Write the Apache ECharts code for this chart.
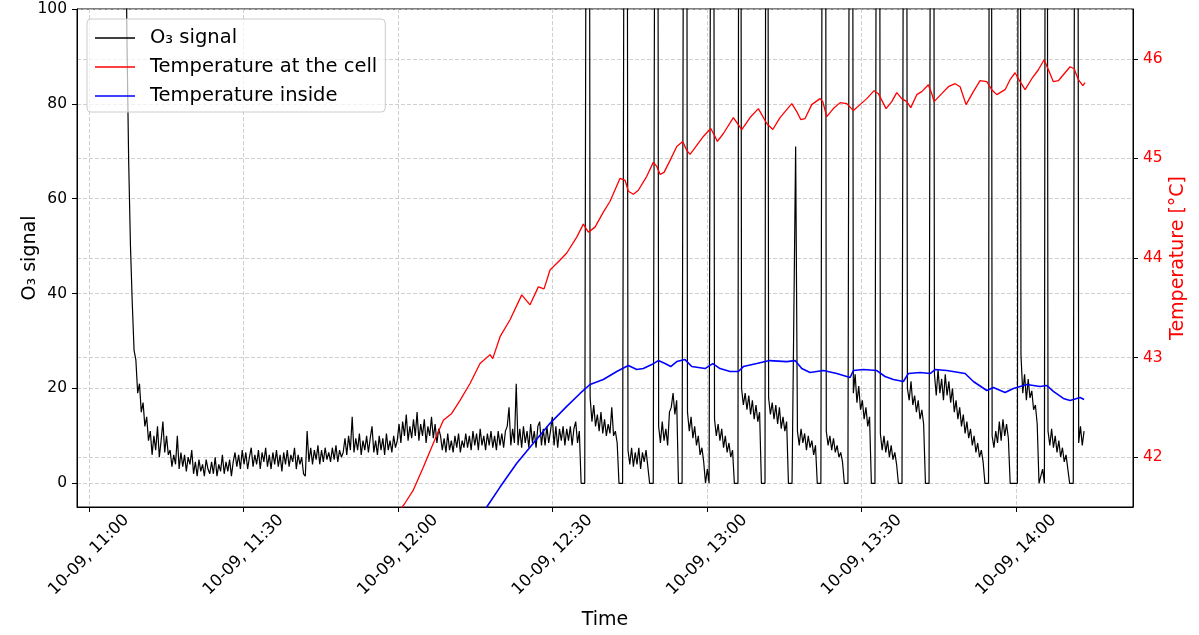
<!DOCTYPE html>
<html>
<head>
<meta charset="utf-8">
<script src="https://cdn.jsdelivr.net/npm/echarts@6/dist/echarts.min.js"></script>
<style>
  html, body { margin: 0; padding: 0; background: #ffffff; }
  #chart { width: 1199px; height: 635px; }
</style>
</head>
<body>
<div id="chart"></div>
<script>
// Ozone monitor run, 10-09: O3 signal sampled every 0.35 min from 11:07,
// plus cell and enclosure temperatures (minutes after 11:00, degrees C).
const o3StartMinute = 7.0;
const o3StepMinute = 0.35;
const o3Signal = [
  140, 95, 68, 50, 38, 28, 26, 19, 21, 15, 17, 12, 14, 9,
  11, 6, 10, 7, 12, 5.5, 9, 13, 6.5, 10, 6,
  7, 3.5, 6, 4, 10, 3, 6.5, 3.5, 6, 2.5, 5.5, 4, 7,
  2, 4.5, 1.5, 5, 2.5, 4, 1.5, 5, 3, 2, 4.5, 2, 5.5, 1.5, 4, 2.5, 6, 2, 4.5, 2.5, 5, 1.5, 4.5,
  6.5, 3.5, 6, 3, 7, 4, 6.5, 3, 5.5, 7.5, 3.5, 6, 4, 7, 3, 6.5, 4.5, 7.5, 3.5, 6,
  3, 6.5, 4, 7, 3.5, 6, 2.5, 6.5, 4, 7, 3.5, 6, 4.5, 7.5, 3, 6, 4, 5.5, 2, 1.5,
  11, 4.5, 7.5, 4, 7, 5, 8, 4, 7, 4.5, 7.5, 5, 6.5,
  4.5, 7.5, 5, 8, 4.5, 7, 5.5,
  6.5, 9.5, 6, 10, 7, 14, 6.5, 9.5, 7, 10.5,
  6, 9, 7, 10, 6.5, 9.5, 12, 6.5, 9, 6,
  10, 7, 9.5, 6, 10.5, 7, 9, 6.5, 10, 7.5,
  9, 12.5, 8.5, 13, 10, 14.5, 9, 12, 9.5, 13.5, 10, 15, 9, 12.5, 10, 13.5, 8.5, 12, 10, 14, 9.5, 12.5, 8.5, 11.5,
  10, 7, 9.5, 6.5, 10.5, 7, 9, 6.5, 10, 7.5, 10.5, 6.5, 9, 7.5,
  10.5, 7.5, 10, 7, 11, 8, 10.5, 7, 11.5, 8, 10, 7, 10.5, 8, 11, 7.5, 10, 7, 11, 8, 10.5, 7.5, 11, 12, 16,
  8, 11.5, 8.5, 21, 8, 11.5, 7.5, 12, 8.5, 11,
  7.5, 12.5, 8.5, 11, 7.5, 12, 13, 8, 11.5, 8,
  12, 8.5, 11, 14, 8, 12, 7.5, 11.5, 9, 12,
  8, 11.5, 9, 12, 8, 11.5, 13, 8.5, 11,
  0, 0, 0, 0, 350,
  18, 13, 16.5, 12, 14.5, 11, 15, 10.5, 13.5, 10, 12.5, 10.5, 16, 10, 11, 8.5,
  0, 0, 0, 0, 320,
  7, 4, 7.5, 3.5, 6.5, 4, 7.5, 3, 6.5, 4.5, 7, 3.5,
  0, 0, 0, 0, 300,
  12, 8.5, 13, 9, 11.5, 8, 15, 16, 19, 14.5, 17.5,
  0, 0, 0, 0, 330,
  15, 11, 14, 9.5, 12, 8, 10, 6, 7.5, 4.5,
  0, 3, 0, 0, 310,
  13.5, 10, 12.5, 9, 11.5, 7.5, 10, 6.5, 8.5, 5.5, 7,
  0, 0, 0, 340,
  20, 16.5, 19, 15.5, 18.5, 14.5, 17.5, 13.5, 16.5, 13, 15,
  0, 0, 0, 330,
  18, 14.5, 17, 13.5, 16.5, 12.5, 16, 11.5, 14, 11, 13,
  0, 0, 0, 0, 71,
  11, 8, 11.5, 8.5, 10.5, 7, 10, 7.5, 9, 6, 8,
  0, 0, 0, 0, 360,
  11, 8, 10, 7, 9.5, 6.5, 8, 5.5, 6.5, 4.5,
  0, 0, 0, 0, 340,
  19, 23, 17, 20.5, 15.5, 17.5, 13.5, 16, 12, 14,
  0, 0, 0, 0, 350,
  10.5, 7, 10, 6.5, 9, 5.5, 8, 5, 6.5, 4,
  0, 0, 0, 0, 330,
  20, 17.5, 21.5, 16.5, 18.5, 15, 17.5, 13.5, 15.5, 12.5,
  0, 0, 0, 0, 340,
  23, 18.5, 24, 19, 22, 17.5, 23, 18.5, 21.5, 17, 20,
  15, 17.5, 13.5, 16, 12, 14.5, 10.5, 13, 9.5, 11.5, 8, 10, 6.5, 8.5, 5.5, 7, 4.5,
  0, 0, 0, 350,
  10, 7.5, 11, 8.5, 13, 9, 13.5, 10, 12.5, 9.5,
  0, 0, 0, 0, 0, 330,
  27, 19, 23, 17.5, 22, 18, 19.5, 15.5, 16.5, 12.5,
  0, 0, 3, 0, 320,
  11, 8, 11.5, 7.5, 10, 6.5, 9, 5.5, 7.5, 4.5, 6, 3,
  0, 0, 0, 0, 340,
  8.5, 12, 8, 11
];

const cellMinutes = [
  60.39, 61.36, 62.97, 64.91, 66.85, 68.80, 70.43, 72.04, 73.98, 75.92, 77.86, 78.39, 79.81,
  81.75, 84.02, 85.63, 87.24, 88.35, 89.51, 91.46, 92.76, 94.70, 95.98, 96.95, 98.25, 99.86,
  101.17, 103.11, 104.08, 104.72, 105.69, 106.66, 108.29, 109.57, 110.23, 110.87, 111.65,
  112.82, 114.12, 115.28, 116.06, 116.70, 118.00, 119.28, 120.72, 121.55, 122.00, 123.17,
  125.11, 126.74, 128.35, 129.96, 131.59, 132.76, 134.17, 136.45, 137.42, 138.19, 139.03,
  140.33, 141.94, 142.47, 143.24, 144.52, 145.83, 147.13, 148.41, 149.71, 151.01, 152.43,
  153.26, 154.76, 155.86, 156.83, 157.81, 158.78, 159.55, 160.72, 161.69, 162.97, 163.63,
  164.08, 165.57, 166.85, 168.16, 169.13, 170.29, 171.71, 173.01, 174.31, 175.28, 176.25,
  177.86, 178.83, 179.81, 180.78, 181.75, 183.05, 184.33, 185.44, 186.27, 187.24, 188.21,
  189.18, 190.49, 191.26, 192.10, 192.95, 193.40
];
const cellTemp = [
  41.47, 41.54, 41.67, 41.90, 42.14, 42.37, 42.44, 42.57, 42.74, 42.94, 43.03, 42.99, 43.21,
  43.38, 43.63, 43.53, 43.71, 43.69, 43.88, 43.98, 44.05, 44.21, 44.34, 44.26, 44.31, 44.46,
  44.57, 44.80, 44.78, 44.67, 44.64, 44.68, 44.82, 44.96, 44.92, 44.84, 44.86,
  44.98, 45.12, 45.17, 45.08, 45.04, 45.13, 45.22, 45.30, 45.22, 45.17, 45.25,
  45.41, 45.29, 45.41, 45.50, 45.35, 45.29, 45.41, 45.55, 45.47, 45.39, 45.40,
  45.54, 45.60, 45.57, 45.42, 45.50, 45.56, 45.55, 45.48, 45.54, 45.60, 45.68,
  45.65, 45.50, 45.57, 45.66, 45.60, 45.57, 45.51, 45.64, 45.67, 45.74, 45.65,
  45.57, 45.65, 45.72, 45.75, 45.72, 45.54, 45.67, 45.78, 45.77, 45.69, 45.64,
  45.69, 45.79, 45.86, 45.77, 45.69, 45.80, 45.89, 45.99, 45.89, 45.77, 45.78,
  45.84, 45.92, 45.90, 45.79, 45.73, 45.76
];

const insideMinutes = [
  76.31, 77.22, 79.81, 83.05, 86.27, 89.51, 92.76, 95.34, 97.28, 99.86, 102.47, 104.72,
  106.35, 107.63, 109.26, 110.54, 111.84, 112.95, 114.12, 115.73, 117.03, 119.61, 121.11,
  122.52, 124.47, 126.08, 127.05, 129.65, 132.14, 135.47, 137.09, 138.39, 140.00, 142.58,
  145.18, 147.77, 148.41, 150.35, 152.95, 154.56, 156.17, 158.12, 159.09, 161.36, 163.30,
  164.27, 166.54, 170.10, 171.71, 174.31, 175.59, 177.86, 179.48, 182.08, 184.66, 185.96,
  187.24, 189.18, 190.49, 192.43, 193.20
];
const insideTemp = [
  41.43, 41.50, 41.70, 41.94, 42.14, 42.34, 42.51, 42.64, 42.73, 42.78, 42.86, 42.92,
  42.88, 42.89, 42.93, 42.97, 42.94, 42.91, 42.96, 42.98, 42.91, 42.89, 42.94,
  42.89, 42.86, 42.86, 42.91, 42.94, 42.97, 42.96, 42.97, 42.89, 42.85, 42.87,
  42.84, 42.80, 42.87, 42.88, 42.87, 42.81, 42.78, 42.76, 42.84, 42.85, 42.84,
  42.88, 42.87, 42.84, 42.76, 42.67, 42.70, 42.65, 42.69, 42.73, 42.71, 42.72,
  42.66, 42.59, 42.57, 42.60, 42.58
];

const timeTickMinutes = [0, 30, 60, 90, 120, 150, 180];
const o3Ticks = [0, 20, 40, 60, 80, 100];
const tempTicks = [42, 43, 44, 45, 46];

// Minutes after 11:00 on 10-09 rendered as "MM-DD, HH:MM".
const dayStart = Date.UTC(2024, 9, 9, 11, 0, 0);
const pad = n => String(n).padStart(2, '0');
const stampLabel = m => {
  const d = new Date(dayStart + Math.round(m * 60000));
  return pad(d.getUTCMonth() + 1) + '-' + pad(d.getUTCDate()) + ', ' +
         pad(d.getUTCHours()) + ':' + pad(d.getUTCMinutes());
};

const o3Data = o3Signal.map((v, i) => [o3StartMinute + i * o3StepMinute, v]);
const cellData = cellMinutes.map((m, i) => [m, cellTemp[i]]);
const insideData = insideMinutes.map((m, i) => [m, insideTemp[i]]);

const FONT = 'DejaVu Sans';
const gridLine = { show: true, lineStyle: { color: '#c4c4c4', width: 0.8, type: [4, 2] } };

const chart = echarts.init(document.getElementById('chart'), null, { renderer: 'canvas' });
chart.setOption({
  animation: false,
  backgroundColor: '#ffffff',
  textStyle: { fontFamily: FONT },
  grid: {
    left: 77, right: 66, top: 9, bottom: 128,
    show: true, borderColor: '#000', borderWidth: 1, backgroundColor: 'transparent'
  },
  legend: {
    orient: 'vertical', left: 87, top: 19,
    icon: 'rect', itemWidth: 40, itemHeight: 1.4, itemGap: 7,
    padding: [8, 8, 5, 8],
    backgroundColor: 'rgba(255,255,255,0.7)', borderColor: '#cccccc', borderWidth: 1, borderRadius: 4,
    textStyle: { fontFamily: FONT, fontSize: 19.5, color: '#000', lineHeight: 22, padding: [0, 0, 0, 10] },
    data: ['O₃ signal', 'Temperature at the cell', 'Temperature inside']
  },
  xAxis: {
    type: 'value',
    min: -2.33, max: 202.7,
    axisLine: { show: true, onZero: false, lineStyle: { color: '#000', width: 1 } },
    axisTick: { show: true, length: 5, customValues: timeTickMinutes, lineStyle: { color: '#000', width: 1 } },
    axisLabel: {
      customValues: timeTickMinutes,
      rotate: 45, align: 'center', verticalAlign: 'middle',
      fontSize: 16.5, color: '#000', margin: 48, fontFamily: FONT,
      formatter: stampLabel
    },
    splitLine: gridLine,
    name: 'Time', nameLocation: 'middle', nameGap: 104, nameMoveOverlap: false,
    nameTextStyle: { fontSize: 19, color: '#000', fontFamily: FONT }
  },
  yAxis: [
    {
      type: 'value', position: 'left', min: -5, max: 100,
      axisLine: { show: true, onZero: false, lineStyle: { color: '#000', width: 1 } },
      axisTick: { show: true, length: 5, customValues: o3Ticks, lineStyle: { color: '#000' } },
      axisLabel: { customValues: o3Ticks, fontSize: 15.5, color: '#000', margin: 10, fontFamily: FONT },
      splitLine: gridLine,
      name: 'O₃ signal', nameLocation: 'middle', nameRotate: 90, nameGap: 37, nameMoveOverlap: false,
      nameTextStyle: { fontSize: 19, color: '#000', fontFamily: FONT }
    },
    {
      type: 'value', position: 'right', min: 41.5, max: 46.5,
      axisLine: { show: true, onZero: false, lineStyle: { color: '#000', width: 1 } },
      axisTick: { show: true, length: 5, customValues: tempTicks, lineStyle: { color: '#000' } },
      axisLabel: { customValues: tempTicks, fontSize: 15.5, color: '#ff0000', margin: 10, fontFamily: FONT },
      splitLine: gridLine,
      name: 'Temperature [°C]', nameLocation: 'middle', nameRotate: 90, nameGap: 36, nameMoveOverlap: false,
      nameTextStyle: { fontSize: 19, color: '#ff0000', fontFamily: FONT }
    }
  ],
  series: [
    {
      name: 'O₃ signal', type: 'line', yAxisIndex: 0, data: o3Data,
      showSymbol: false, symbol: 'none', color: '#000000',
      lineStyle: { color: '#000000', width: 1.2 }
    },
    {
      name: 'Temperature at the cell', type: 'line', yAxisIndex: 1, data: cellData,
      showSymbol: false, symbol: 'none', color: '#ff0000',
      lineStyle: { color: '#ff0000', width: 1.3 }
    },
    {
      name: 'Temperature inside', type: 'line', yAxisIndex: 1, data: insideData,
      showSymbol: false, symbol: 'none', color: '#0000ff',
      lineStyle: { color: '#0000ff', width: 1.6 }
    }
  ]
});
</script>
</body>
</html>
